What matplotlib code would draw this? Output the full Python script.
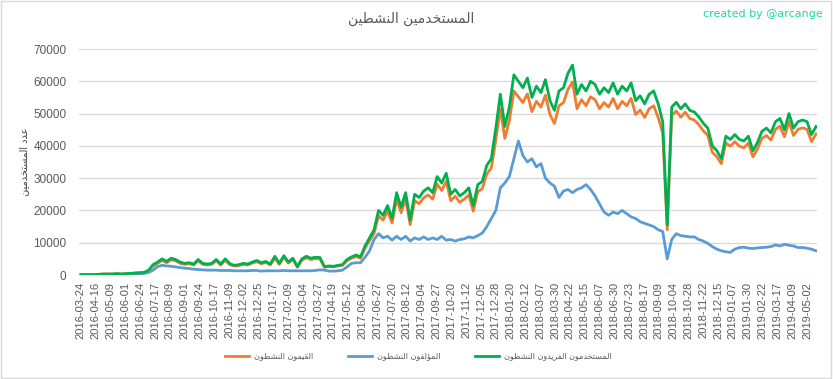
import numpy as np
import matplotlib
matplotlib.use("Agg")
import matplotlib.pyplot as plt
from matplotlib.patches import Rectangle

plt.rcParams['font.family'] = ['Liberation Sans', 'DejaVu Sans']

# weekly samples (every 7th day of the series), values in thousands of users
curators = [0.1, 0.1, 0.1, 0.1, 0.2, 0.3, 0.3, 0.3, 0.4, 0.3, 0.4, 0.5, 0.6, 0.7, 0.7,
            1.3, 2.8, 3.6, 4.5, 3.8, 4.7, 4.4, 3.6, 3.3, 3.5, 3.1, 4.4, 3.3, 3.1, 3.3,
            4.4, 3.1, 4.6, 3.2, 2.8, 2.9, 3.3, 3.1, 3.7, 4.1, 3.5, 3.9, 3.1, 5.3, 3.3,
            5.5, 3.7, 4.8, 2.4, 4.6, 5.3, 4.8, 5.1, 5.0, 2.4, 2.6, 2.5, 2.8, 3.0, 4.4,
            5.2, 5.7, 5.2, 8.3, 10.6, 12.9, 18.4, 17.0, 19.8, 16.1, 23.5, 19.3, 23.5, 15.6,
            23.0, 22.1, 23.9, 24.8, 23.5, 28.1, 26.2, 29.0, 23.0, 24.4, 22.5, 23.5, 24.8,
            19.8, 25.8, 26.7, 31.3, 33.1, 41.9, 51.5, 42.3, 47.8, 57.0, 55.2, 53.4, 56.1,
            50.6, 53.8, 52.0, 55.7, 49.7, 46.9, 52.4, 53.4, 57.5, 59.8, 51.5, 54.3, 52.4,
            55.2, 54.3, 51.5, 53.4, 52.0, 54.7, 51.5, 53.8, 52.4, 54.7, 49.7, 51.1, 48.8,
            51.5, 52.4, 48.8, 44.0, 14.0, 49.4, 50.8, 48.9, 50.4, 48.5, 48.0, 46.6, 44.7,
            43.2, 38.0, 36.6, 34.5, 40.9, 39.9, 41.3, 39.9, 39.4, 40.9, 36.6, 39.0, 42.3,
            43.2, 41.8, 45.1, 46.1, 42.8, 47.5, 43.2, 45.1, 45.6, 45.1, 41.3, 43.7]
authors = [0.05, 0.05, 0.05, 0.05, 0.1, 0.2, 0.2, 0.2, 0.2, 0.2, 0.3, 0.3, 0.4, 0.4, 0.5,
           0.8, 1.5, 2.6, 3.0, 2.8, 2.7, 2.5, 2.3, 2.1, 2.0, 1.8, 1.7, 1.6, 1.5, 1.5,
           1.5, 1.4, 1.4, 1.4, 1.3, 1.3, 1.3, 1.3, 1.4, 1.4, 1.2, 1.3, 1.3, 1.3, 1.3,
           1.4, 1.3, 1.3, 1.3, 1.3, 1.3, 1.3, 1.4, 1.6, 1.5, 1.2, 1.2, 1.3, 1.5, 2.5,
           3.6, 3.8, 3.8, 5.5, 7.5, 11.0, 12.8, 11.5, 12.0, 10.8, 12.0, 11.0, 12.0, 10.5,
           11.5, 11.0, 11.8, 11.0, 11.5, 11.0, 12.0, 10.8, 11.0, 10.5, 11.0, 11.2, 11.8,
           11.5, 12.2, 13.0, 15.0, 17.5, 20.0, 27.0, 28.5, 30.5, 36.0, 41.5, 37.0, 35.0,
           36.0, 33.5, 34.5, 30.0, 28.5, 27.5, 24.0, 26.0, 26.5, 25.5, 26.5, 27.0, 28.0,
           26.5, 24.5, 22.0, 19.5, 18.5, 19.5, 19.0, 20.0, 19.0, 18.0, 17.5, 16.5, 16.0,
           15.5, 15.0, 14.0, 13.5, 5.0, 11.0, 12.8, 12.2, 12.0, 11.8, 11.8, 11.0, 10.5,
           9.8, 8.8, 8.0, 7.5, 7.2, 7.0, 8.0, 8.5, 8.6, 8.3, 8.2, 8.4, 8.5,
           8.6, 8.8, 9.3, 9.0, 9.5, 9.2, 9.0, 8.5, 8.5, 8.3, 8.0, 7.5]
unique_users = [0.1, 0.1, 0.1, 0.1, 0.2, 0.3, 0.3, 0.3, 0.4, 0.3, 0.4, 0.5, 0.6, 0.7, 0.8,
                1.5, 3.2, 4.0, 5.0, 4.2, 5.2, 4.8, 4.0, 3.6, 3.8, 3.4, 4.8, 3.6, 3.4, 3.6,
                4.8, 3.4, 5.0, 3.5, 3.0, 3.2, 3.6, 3.4, 4.0, 4.5, 3.8, 4.2, 3.4, 5.8, 3.6,
                6.0, 4.0, 5.2, 2.6, 5.0, 5.8, 5.2, 5.5, 5.4, 2.6, 2.8, 2.7, 3.0, 3.2, 4.8,
                5.6, 6.2, 5.6, 9.0, 11.5, 14.0, 20.0, 18.5, 21.5, 17.5, 25.5, 21.0, 25.5, 17.0,
                25.0, 24.0, 26.0, 27.0, 25.5, 30.5, 28.5, 31.5, 25.0, 26.5, 24.5, 25.5, 27.0,
                21.5, 28.0, 29.0, 34.0, 36.0, 45.5, 56.0, 46.0, 52.0, 62.0, 60.0, 58.0, 61.0,
                55.0, 58.5, 56.5, 60.5, 54.0, 51.0, 57.0, 58.0, 62.5, 65.0, 56.0, 59.0, 57.0,
                60.0, 59.0, 56.0, 58.0, 56.5, 59.5, 56.0, 58.5, 57.0, 59.5, 54.0, 55.5, 53.0,
                56.0, 57.0, 53.0, 47.5, 15.5, 52.0, 53.5, 51.5, 53.0, 51.0, 50.5, 49.0, 47.0,
                45.5, 40.0, 38.5, 36.0, 43.0, 42.0, 43.5, 42.0, 41.5, 43.0, 38.5, 41.0, 44.5,
                45.5, 44.0, 47.5, 48.5, 45.0, 50.0, 45.5, 47.5, 48.0, 47.5, 43.5, 46.0]

tick_labels = ['2016-03-24', '2016-04-16', '2016-05-09', '2016-06-01', '2016-06-24',
               '2016-07-17', '2016-08-09', '2016-09-01', '2016-09-24', '2016-10-17',
               '2016-11-09', '2016-12-02', '2016-12-25', '2017-01-17', '2017-02-09',
               '2017-03-04', '2017-03-27', '2017-04-19', '2017-05-12', '2017-06-04',
               '2017-06-27', '2017-07-20', '2017-08-12', '2017-09-04', '2017-09-27',
               '2017-10-20', '2017-11-12', '2017-12-05', '2017-12-28', '2018-01-20',
               '2018-02-12', '2018-03-07', '2018-03-30', '2018-04-22', '2018-05-15',
               '2018-06-07', '2018-06-30', '2018-07-23', '2018-08-17', '2018-09-09',
               '2018-10-04', '2018-10-28', '2018-11-22', '2018-12-15', '2019-01-07',
               '2019-01-30', '2019-02-22', '2019-03-17', '2019-04-09', '2019-05-02']

title = 'المستخدمين النشطين'
ylabel = 'عدد المستخدمين'
names = ['القيمون النشطون', 'المؤلفون النشطون', 'المستخدمون الفريدون النشطون']

# minimal arabic shaping (presentation forms) since matplotlib does no shaping
FORMS = {
    'ا': (0xFE8D, 0xFE8E), 'د': (0xFEA9, 0xFEAA), 'ر': (0xFEAD, 0xFEAE),
    'و': (0xFEED, 0xFEEE), 'ؤ': (0xFE85, 0xFE86),
    'ت': (0xFE95, 0xFE96, 0xFE97, 0xFE98), 'خ': (0xFEA5, 0xFEA6, 0xFEA7, 0xFEA8),
    'س': (0xFEB1, 0xFEB2, 0xFEB3, 0xFEB4), 'ش': (0xFEB5, 0xFEB6, 0xFEB7, 0xFEB8),
    'ط': (0xFEC1, 0xFEC2, 0xFEC3, 0xFEC4), 'ع': (0xFEC9, 0xFECA, 0xFECB, 0xFECC),
    'ف': (0xFED1, 0xFED2, 0xFED3, 0xFED4), 'ق': (0xFED5, 0xFED6, 0xFED7, 0xFED8),
    'ل': (0xFEDD, 0xFEDE, 0xFEDF, 0xFEE0), 'م': (0xFEE1, 0xFEE2, 0xFEE3, 0xFEE4),
    'ن': (0xFEE5, 0xFEE6, 0xFEE7, 0xFEE8), 'ي': (0xFEF1, 0xFEF2, 0xFEF3, 0xFEF4),
}


def shape(text):
    out = []
    for i, ch in enumerate(text):
        f = FORMS.get(ch)
        if f is None:
            out.append(ch)
            continue
        prev = FORMS.get(text[i - 1]) if i > 0 else None
        nxt = FORMS.get(text[i + 1]) if i + 1 < len(text) else None
        jp = prev is not None and len(prev) == 4
        jn = nxt is not None and len(f) == 4
        if jp and jn:
            out.append(chr(f[3]))
        elif jn:
            out.append(chr(f[2]))
        elif jp:
            out.append(chr(f[1]))
        else:
            out.append(chr(f[0]))
    return ''.join(reversed(out))


x = np.arange(len(unique_users)) * 7
gray = '#595959'

fig = plt.figure(figsize=(8.33, 3.79), dpi=100)
ax = fig.add_axes([0.0948, 0.2744, 0.886, 0.5963])

ax.plot(x, np.array(curators) * 1000, color='#ED7D31', lw=2, label=shape(names[0]))
ax.plot(x, np.array(authors) * 1000, color='#5B9BD5', lw=2, label=shape(names[1]))
ax.plot(x, np.array(unique_users) * 1000, color='#00B050', lw=2, label=shape(names[2]))

ax.set_ylim(0, 70000)
ax.set_xlim(-3, 1142.5)
ax.set_yticks(np.arange(0, 70001, 10000))
ax.set_xticks(np.arange(len(tick_labels)) * 23)
ax.set_xticklabels(tick_labels, rotation=90)
ax.tick_params(axis='x', length=0, pad=5, labelsize=8, labelcolor=gray)
ax.tick_params(axis='y', length=0, pad=9, labelsize=8.5, labelcolor=gray)
ax.grid(axis='y', color='#D9D9D9', lw=0.9)
ax.set_axisbelow(True)
for s in ax.spines.values():
    s.set_visible(False)

ax.set_ylabel(shape(ylabel), fontsize=7, color='#404040', labelpad=3, family='DejaVu Sans')
fig.text(0.494, 0.95, shape(title), ha='center', va='center', fontsize=10, color=gray,
         family='DejaVu Sans')
fig.text(0.988, 0.962, 'created by @arcange', ha='right', va='center', fontsize=8,
         color='#1ED6A6', family='DejaVu Sans')

fig.legend(loc='center', bbox_to_anchor=(0.502, 0.061), ncol=3, frameon=False,
           labelcolor=gray, handlelength=3.0, handletextpad=0.6,
           columnspacing=4.3, prop={'family': 'DejaVu Sans', 'size': 5.8})

fig.patches.append(Rectangle((0.001, 0.002), 0.997, 0.995, transform=fig.transFigure,
                             fill=False, edgecolor='#D9D9D9', lw=1))

fig.savefig('out.png', dpi=100)
